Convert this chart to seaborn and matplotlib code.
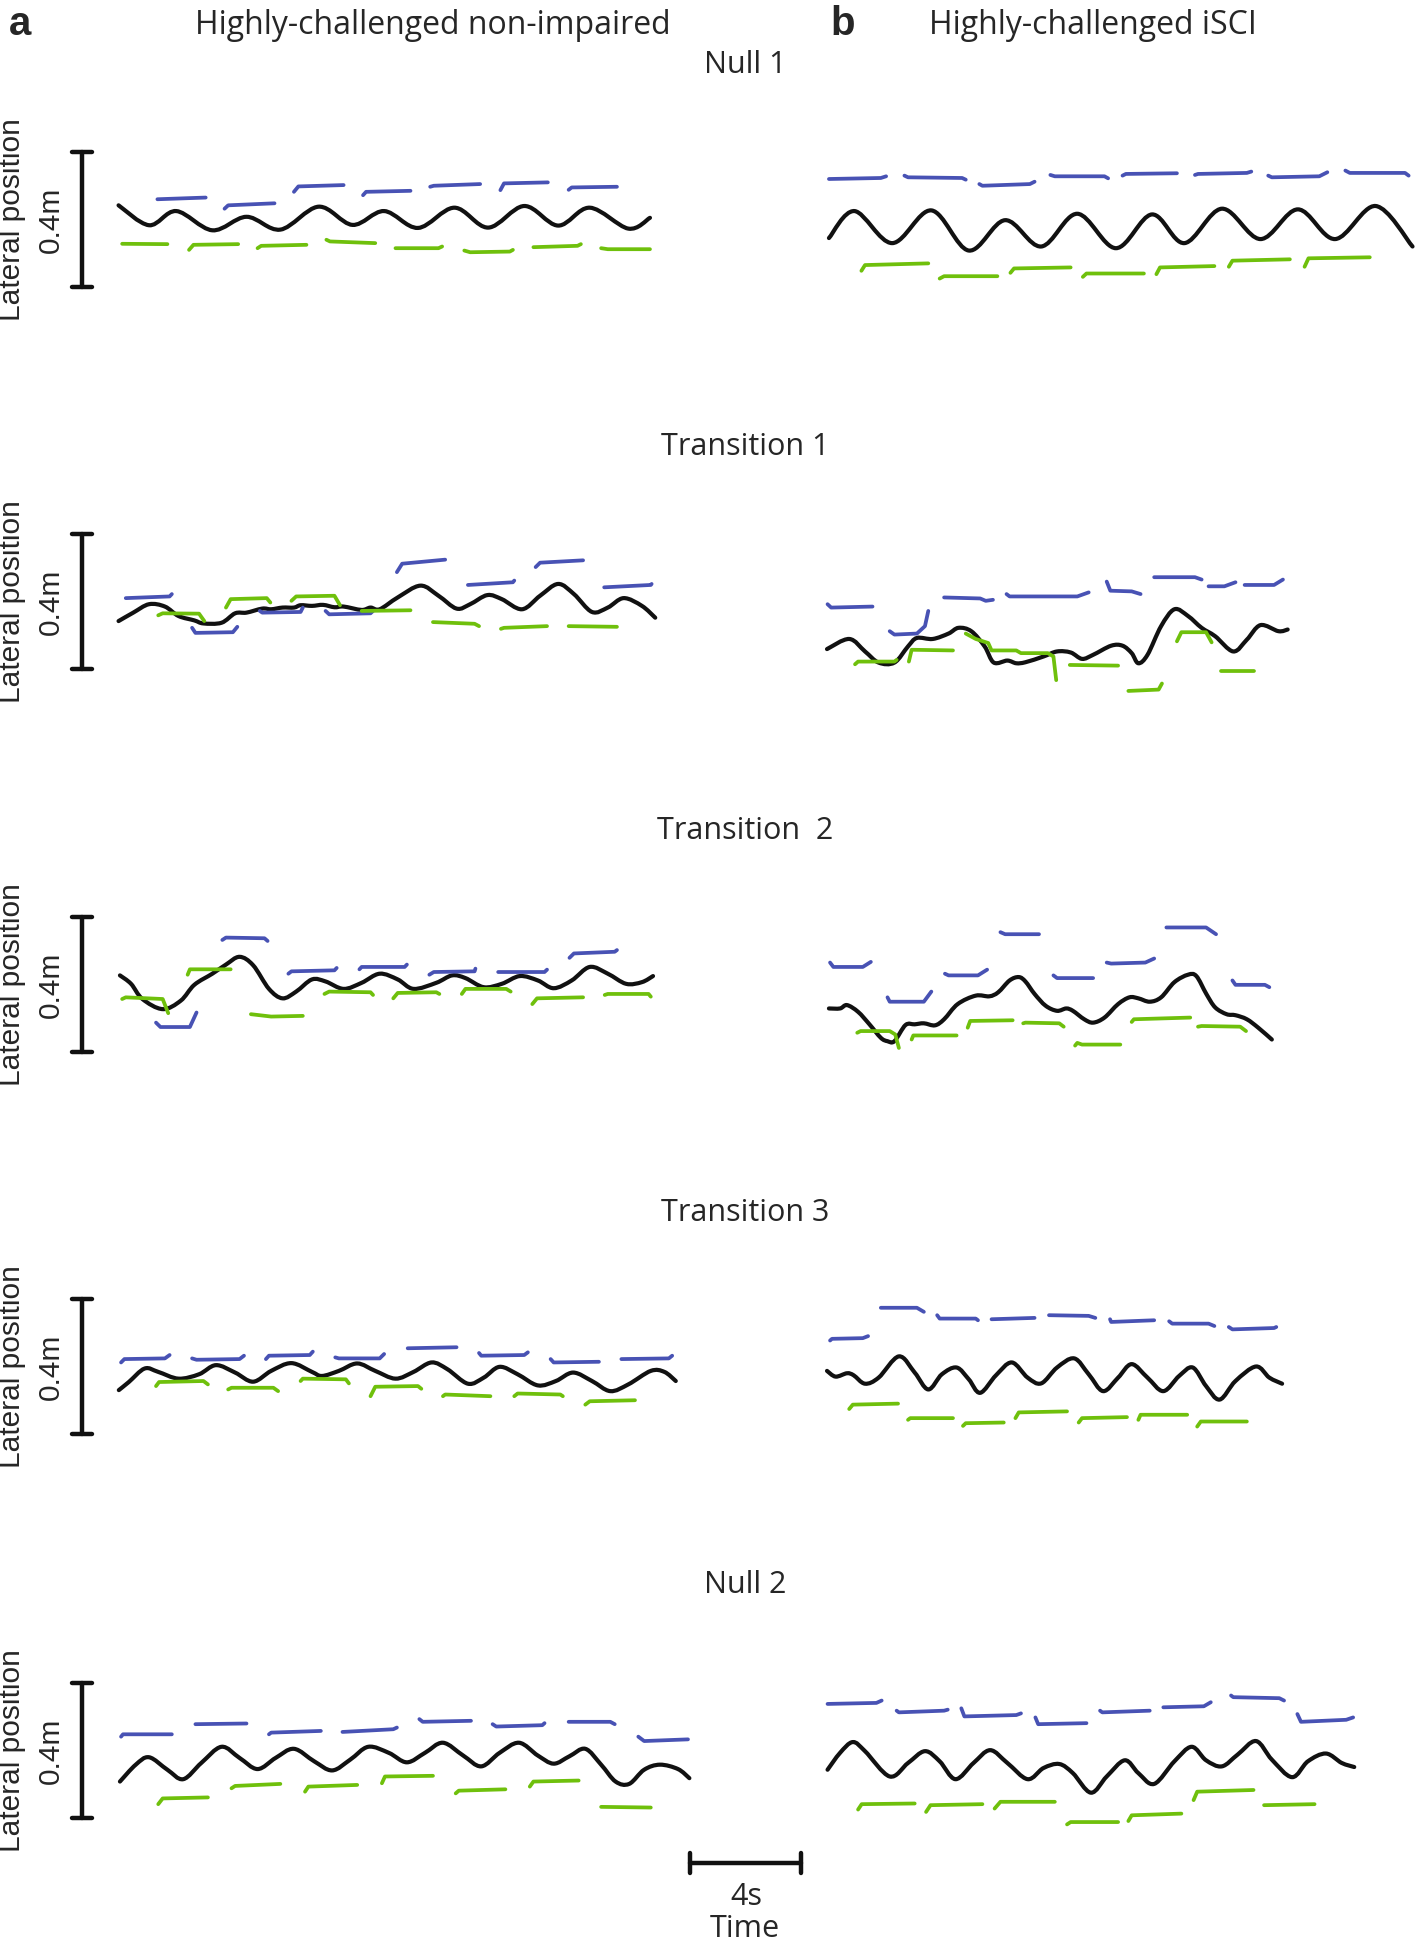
import numpy as np
import pandas as pd
import matplotlib
matplotlib.use("Agg")
import matplotlib.pyplot as plt
from matplotlib.path import Path
from matplotlib.patches import PathPatch
import seaborn as sns

# time in s (from trace start), lateral position in cm (from bottom of 0.4 m bar)
# ---------------- Null 1 ----------------
NULL1_NI_COM = [(0.02, 24.2), (1.12, 18.3), (2.1, 22.5), (3.4, 16.8), (4.63, 20.8), (5.85, 17.0),
                (7.23, 23.8), (8.45, 18.4), (9.59, 22.5), (10.81, 17.5), (12.12, 23.5), (13.34, 17.6),
                (14.64, 24.0), (15.86, 18.2), (17.0, 23.5), (18.39, 17.3), (19.17, 20.5)]
NULL1_NI_BLUE = [[(1.42, 26.0), (3.16, 26.5)],
                 [(3.84, 23.2), (3.97, 24.2), (5.64, 24.8)],
                 [(6.34, 28.2), (6.5, 29.8), (8.13, 30.2)],
                 [(8.83, 27.2), (8.94, 28.2), (10.54, 28.5)],
                 [(11.25, 29.7), (11.38, 30.0), (13.05, 30.5)],
                 [(13.78, 28.7), (13.91, 30.7), (15.49, 31.0)],
                 [(16.24, 28.8), (16.35, 29.5), (17.98, 29.7)]]
NULL1_NI_GREEN = [[(0.15, 12.8), (1.78, 12.7)],
                  [(2.56, 11.0), (2.72, 12.5), (4.33, 12.7)],
                  [(5.03, 11.5), (5.16, 12.2), (6.79, 12.5)],
                  [(7.51, 14.0), (7.64, 13.5), (9.27, 13.0)],
                  [(10.0, 11.5), (11.55, 11.5), (11.68, 12.0)],
                  [(12.48, 10.8), (12.69, 10.3), (14.12, 10.5), (14.23, 11.0)],
                  [(14.97, 11.8), (16.56, 12.2), (16.68, 12.7)],
                  [(17.41, 11.5), (17.65, 11.2), (19.17, 11.2)]]

NULL1_SCI_COM = [(0.07, 14.5), (0.99, 22.5), (2.35, 13.0), (3.76, 22.7), (5.11, 10.8), (6.42, 19.8),
                 (7.72, 12.0), (9.02, 21.7), (10.41, 11.5), (11.71, 21.5), (12.88, 13.0), (14.23, 23.2),
                 (15.62, 14.2), (16.97, 23.0), (18.31, 14.2), (19.77, 24.0), (21.1, 12.0)]
NULL1_SCI_BLUE = [[(0.07, 32.0), (1.94, 32.3), (2.13, 32.8)],
                  [(2.79, 33.0), (2.92, 32.5), (4.87, 32.3), (5.0, 31.8)],
                  [(5.49, 30.5), (5.6, 30.0), (7.31, 30.5), (7.48, 31.2)],
                  [(8.05, 33.2), (8.21, 32.8), (10.0, 32.8), (10.13, 32.2)],
                  [(10.65, 33.0), (10.77, 33.5), (12.61, 33.7)],
                  [(13.26, 33.2), (13.37, 33.5), (15.13, 33.8), (15.29, 34.2)],
                  [(15.9, 33.0), (16.03, 32.5), (17.74, 32.8), (18.03, 34.0)],
                  [(18.68, 34.5), (18.84, 33.8), (20.83, 33.8), (20.96, 33.0)]]
NULL1_SCI_GREEN = [[(1.24, 4.8), (1.37, 6.5), (3.65, 7.0)],
                   [(4.06, 2.5), (4.22, 3.2), (6.14, 3.2)],
                   [(6.61, 4.2), (6.74, 5.5), (8.78, 5.8)],
                   [(9.22, 3.0), (9.35, 4.0), (11.42, 4.0)],
                   [(11.87, 3.8), (12.0, 5.8), (13.96, 6.2)],
                   [(14.48, 6.0), (14.61, 7.8), (16.68, 8.2)],
                   [(17.21, 6.0), (17.35, 8.5), (19.56, 8.8)]]

# ---------------- Transition 1 ----------------
TRANS1_NI_COM = [(0.02, 14.2), (0.55, 16.7), (1.12, 19.2), (1.69, 18.5), (2.18, 15.7), (2.75, 14.4),
                 (3.08, 13.5), (3.73, 13.7), (4.22, 16.5), (4.63, 16.7), (5.2, 17.9), (5.52, 17.7),
                 (5.93, 18.2), (6.34, 18.2), (6.58, 18.9), (6.99, 18.7), (7.39, 19.0), (7.8, 18.3),
                 (8.13, 18.5), (8.78, 17.5), (9.1, 18.2), (9.43, 17.7), (10.08, 21.2), (10.9, 24.7),
                 (11.55, 21.7), (12.2, 17.9), (12.69, 19.2), (13.31, 21.9), (13.83, 20.7), (14.56, 17.7),
                 (15.21, 21.7), (15.86, 25.2), (16.43, 22.2), (17.08, 16.9), (17.65, 18.2), (18.22, 21.0),
                 (18.88, 18.7), (19.36, 15.2)]
TRANS1_NI_BLUE = [[(0.28, 21.0), (1.86, 21.5), (1.94, 22.2)],
                  [(2.67, 12.2), (2.79, 10.7), (4.14, 10.9), (4.3, 12.5)],
                  [(5.11, 17.2), (5.2, 16.7), (6.58, 16.9), (6.66, 18.2)],
                  [(7.48, 17.2), (7.61, 16.2), (9.1, 16.5), (9.19, 17.2)],
                  [(10.05, 28.7), (10.24, 31.2), (11.79, 32.4)],
                  [(12.61, 24.9), (14.23, 25.7), (14.28, 26.2)],
                  [(15.05, 30.2), (15.21, 31.5), (16.76, 32.2)],
                  [(17.52, 24.2), (19.2, 24.9), (19.23, 25.2)]]
TRANS1_NI_GREEN = [[(1.45, 15.9), (1.61, 16.5), (2.92, 16.4), (3.11, 14.2)],
                   [(3.89, 18.2), (4.06, 20.7), (5.36, 21.0), (5.49, 19.7)],
                   [(6.25, 20.2), (6.42, 21.5), (7.8, 21.7), (8.0, 18.9)],
                   [(8.78, 17.2), (10.54, 17.4)],
                   [(11.35, 13.9), (12.85, 13.4), (13.01, 12.7)],
                   [(13.8, 11.9), (13.91, 12.2), (15.46, 12.7)],
                   [(16.24, 12.7), (17.98, 12.5)]]

TRANS1_SCI_COM = [(0.0, 5.9), (0.8, 8.9), (1.37, 5.2), (1.86, 1.9), (2.43, 1.9), (2.92, 6.7), (3.24, 9.2),
                  (3.81, 8.9), (4.38, 10.5), (4.74, 12.2), (5.2, 11.2), (5.68, 6.7), (6.01, 1.9), (6.5, 2.5),
                  (6.82, 1.7), (7.15, 2.0), (7.8, 3.7), (8.29, 5.2), (8.78, 4.9), (9.19, 3.0), (9.59, 4.2),
                  (10.24, 6.9), (10.65, 6.9), (10.98, 4.7), (11.22, 1.7), (11.55, 4.2), (12.04, 12.7),
                  (12.52, 17.7), (13.01, 15.7), (13.5, 12.2), (13.99, 9.7), (14.64, 5.2), (15.13, 8.7),
                  (15.62, 13.0), (16.27, 11.2), (16.6, 11.7)]
TRANS1_SCI_BLUE = [[(0.02, 19.2), (0.15, 18.2), (1.64, 18.5)],
                   [(2.26, 11.2), (2.43, 10.2), (3.24, 10.5), (3.53, 12.7), (3.65, 17.2)],
                   [(4.22, 21.2), (5.52, 20.9), (5.72, 20.2), (5.98, 20.5)],
                   [(6.47, 22.2), (6.58, 21.5), (9.02, 21.5), (9.43, 22.7)],
                   [(10.08, 25.9), (10.21, 23.2), (10.98, 23.0), (11.3, 22.2)],
                   [(11.79, 27.2), (13.26, 27.2), (13.5, 26.5)],
                   [(13.75, 24.5), (14.32, 24.5), (14.72, 25.7)],
                   [(15.05, 24.9), (16.11, 24.9), (16.43, 26.5)]]
TRANS1_SCI_GREEN = [[(1.01, 1.4), (1.12, 2.2), (2.43, 2.2), (2.51, 2.7)],
                    [(2.95, 2.2), (3.05, 5.7), (4.54, 5.5)],
                    [(5.0, 10.5), (5.36, 8.9), (5.81, 7.7), (5.93, 5.5), (6.82, 5.5), (6.99, 4.7),
                     (7.96, 4.7), (8.16, 3.7), (8.26, -3.3)],
                    [(8.75, 1.2), (10.49, 1.0)],
                    [(10.86, -6.5), (11.95, -6.1), (12.07, -4.3)],
                    [(12.61, 8.2), (12.77, 10.9), (13.66, 10.9), (13.86, 7.9)],
                    [(14.19, -0.6), (15.37, -0.6)]]

# ---------------- Transition 2 ----------------
TRANS2_NI_COM = [(0.07, 22.7), (0.47, 20.2), (0.88, 15.7), (1.61, 12.7), (2.26, 15.2), (2.75, 19.9),
                 (3.4, 23.2), (3.89, 25.9), (4.38, 28.2), (4.87, 25.7), (5.44, 18.7), (5.93, 15.9),
                 (6.42, 17.9), (6.99, 21.5), (7.48, 20.9), (8.13, 18.7), (8.78, 20.5), (9.43, 23.2),
                 (10.08, 21.5), (10.65, 18.7), (11.47, 20.5), (12.04, 22.7), (12.52, 21.9), (13.18, 19.2),
                 (13.83, 20.2), (14.48, 22.5), (15.13, 21.2), (15.7, 18.9), (16.35, 21.2), (17.0, 25.2),
                 (17.65, 23.2), (18.31, 20.2), (18.88, 20.7), (19.28, 22.5)]
TRANS2_NI_BLUE = [[(1.37, 8.7), (1.53, 7.4), (2.59, 7.4), (2.83, 11.7)],
                  [(3.76, 33.2), (3.89, 33.9), (5.28, 33.7), (5.39, 32.9)],
                  [(6.14, 23.2), (6.25, 23.9), (7.8, 24.2), (7.88, 24.9)],
                  [(8.7, 24.5), (8.78, 25.2), (10.33, 25.2), (10.41, 25.9)],
                  [(11.22, 22.9), (11.38, 23.7), (12.85, 23.9), (12.88, 24.7)],
                  [(13.7, 23.7), (15.37, 23.7), (15.46, 24.4)],
                  [(16.27, 27.9), (16.43, 29.2), (17.9, 29.7), (17.98, 30.2)]]
TRANS2_NI_GREEN = [[(0.15, 15.7), (0.28, 16.2), (1.61, 15.7), (1.81, 11.5)],
                   [(2.51, 22.9), (2.59, 24.5), (4.06, 24.5)],
                   [(4.79, 11.2), (5.52, 10.5), (6.66, 10.7)],
                   [(7.44, 17.2), (7.61, 17.9), (9.1, 17.7), (9.19, 16.9)],
                   [(9.92, 15.9), (10.08, 17.5), (11.47, 17.7), (11.58, 17.2)],
                   [(12.39, 17.2), (12.52, 18.7), (13.99, 18.7), (14.15, 17.9)],
                   [(14.93, 14.2), (15.1, 15.9), (16.76, 16.2)],
                   [(17.54, 16.9), (17.65, 17.2), (19.12, 17.2), (19.2, 16.4)]]

TRANS2_SCI_COM = [(0.07, 12.9), (0.47, 12.9), (0.72, 13.9), (1.12, 11.9), (1.53, 8.2), (1.94, 4.2),
                  (2.18, 3.2), (2.43, 3.2), (2.83, 8.0), (3.16, 8.2), (3.49, 8.5), (3.89, 7.9), (4.22, 9.7),
                  (4.71, 14.2), (5.36, 16.7), (5.85, 16.5), (6.17, 17.7), (6.58, 21.2), (6.91, 22.2),
                  (7.15, 20.9), (7.48, 17.2), (7.88, 13.7), (8.29, 12.2), (8.62, 12.9), (8.86, 12.2),
                  (9.27, 9.7), (9.59, 8.7), (10.0, 10.2), (10.49, 14.2), (10.9, 16.2), (11.22, 15.9),
                  (11.63, 14.9), (12.04, 16.2), (12.52, 20.7), (13.01, 22.9), (13.31, 22.5), (13.67, 17.2),
                  (13.99, 13.2), (14.4, 11.2), (14.72, 10.9), (15.13, 9.7), (15.54, 7.2), (16.03, 3.7)]
TRANS2_SCI_BLUE = [[(0.11, 26.5), (0.23, 25.2), (1.29, 25.2), (1.58, 26.7)],
                   [(2.18, 16.2), (2.26, 14.9), (3.49, 14.9), (3.76, 17.9)],
                   [(4.25, 23.2), (4.38, 22.7), (5.44, 22.7), (5.77, 24.4)],
                   [(6.25, 35.5), (6.42, 34.9), (7.64, 34.9)],
                   [(8.16, 22.7), (8.29, 21.9), (9.59, 21.9)],
                   [(10.08, 26.5), (10.24, 26.2), (11.47, 26.5), (11.79, 27.7)],
                   [(12.23, 36.9), (13.66, 36.9), (14.02, 34.9)],
                   [(14.61, 21.2), (14.72, 19.9), (15.78, 19.9), (15.94, 19.2)]]
TRANS2_SCI_GREEN = [[(1.09, 5.7), (1.21, 6.2), (2.26, 6.2), (2.46, 5.2), (2.59, 1.2)],
                    [(3.05, 3.7), (3.11, 4.9), (4.67, 4.9)],
                    [(5.07, 7.2), (5.16, 9.2), (6.69, 9.4)],
                    [(7.07, 8.5), (7.15, 8.7), (8.37, 8.5), (8.53, 7.5)],
                    [(8.94, 1.9), (9.02, 2.7), (9.19, 2.2), (10.57, 2.2)],
                    [(10.98, 8.9), (11.06, 9.7), (13.09, 10.2)],
                    [(13.37, 7.5), (13.5, 7.7), (14.89, 7.5), (15.1, 6.2)]]

# ---------------- Transition 3 ----------------
TRANS3_NI_COM = [(0.03, 13.0), (0.39, 15.4), (0.96, 19.4), (1.45, 18.4), (2.18, 16.4), (2.92, 17.7),
                 (3.53, 20.4), (4.22, 18.2), (4.87, 15.5), (5.52, 18.7), (6.25, 21.0), (6.99, 18.4),
                 (7.35, 17.2), (7.96, 18.7), (8.62, 20.9), (9.27, 18.7), (10.0, 16.4), (10.65, 18.4),
                 (11.3, 21.2), (11.87, 19.2), (12.61, 14.9), (13.18, 16.7), (13.75, 19.9), (14.4, 17.7),
                 (15.13, 14.4), (15.78, 15.7), (16.4, 18.2), (17.08, 15.7), (17.74, 12.7), (18.39, 14.7),
                 (19.2, 18.7), (19.69, 18.4), (20.1, 15.7)]
TRANS3_NI_BLUE = [[(0.11, 21.2), (0.23, 22.2), (1.69, 22.4), (1.86, 23.4)],
                  [(2.67, 22.4), (2.83, 22.0), (4.38, 22.2), (4.54, 23.2)],
                  [(5.33, 22.2), (5.44, 23.2), (6.91, 23.4), (7.02, 24.4)],
                  [(7.83, 22.7), (7.96, 22.4), (9.43, 22.4), (9.59, 23.7)],
                  [(10.44, 25.4), (12.2, 25.7)],
                  [(13.01, 24.0), (13.09, 23.2), (14.64, 23.4), (14.77, 24.2)],
                  [(15.59, 22.2), (15.7, 21.2), (17.33, 21.4)],
                  [(18.14, 22.2), (19.85, 22.4), (19.97, 23.2)]]
TRANS3_NI_GREEN = [[(1.37, 14.2), (1.48, 15.4), (3.08, 15.7), (3.24, 14.7)],
                   [(3.97, 13.2), (4.09, 13.7), (5.6, 13.7), (5.77, 12.7)],
                   [(6.58, 15.7), (6.66, 16.4), (8.21, 16.2), (8.32, 15.0)],
                   [(9.1, 11.2), (9.27, 14.0), (10.81, 14.2), (10.93, 13.4)],
                   [(11.71, 11.2), (11.79, 11.7), (13.42, 11.2)],
                   [(14.28, 11.2), (14.4, 12.0), (15.94, 11.7), (16.03, 11.2)],
                   [(16.84, 8.7), (17.0, 9.7), (18.63, 10.0)]]

TRANS3_SCI_COM = [(0.0, 18.7), (0.31, 17.0), (0.72, 18.0), (0.96, 17.4), (1.37, 14.9), (1.86, 16.7),
                  (2.59, 23.0), (3.16, 18.2), (3.65, 13.2), (4.14, 17.7), (4.67, 19.7), (5.11, 16.2),
                  (5.52, 12.2), (6.09, 17.4), (6.66, 21.2), (7.23, 16.7), (7.72, 15.0), (8.29, 19.7),
                  (8.91, 22.4), (9.43, 17.7), (9.95, 12.7), (10.49, 16.7), (10.98, 20.7), (11.55, 16.7),
                  (12.12, 12.7), (12.69, 17.2), (13.18, 19.7), (13.66, 14.2), (14.15, 10.2), (14.72, 15.7),
                  (15.46, 20.0), (15.94, 16.7), (16.4, 14.9)]
TRANS3_SCI_BLUE = [[(0.11, 27.7), (0.18, 28.2), (1.29, 28.4), (1.48, 29.0)],
                   [(1.94, 37.4), (3.24, 37.4), (3.49, 36.2)],
                   [(3.97, 35.2), (4.06, 34.2), (5.36, 34.2), (5.44, 33.7)],
                   [(5.93, 34.0), (7.48, 34.4)],
                   [(8.0, 35.2), (9.43, 35.0), (9.67, 34.4)],
                   [(10.2, 34.0), (10.24, 33.2), (11.79, 33.7)],
                   [(12.33, 33.4), (12.44, 32.7), (13.75, 32.7), (13.96, 32.0)],
                   [(14.48, 31.7), (14.61, 31.0), (16.11, 31.4), (16.19, 31.7)]]
TRANS3_SCI_GREEN = [[(0.8, 7.4), (0.93, 8.7), (2.56, 9.0)],
                    [(2.92, 4.2), (3.0, 4.7), (4.54, 4.7)],
                    [(4.9, 2.4), (5.0, 3.2), (6.37, 3.4)],
                    [(6.79, 4.7), (6.91, 6.4), (8.65, 6.7)],
                    [(9.07, 3.4), (9.19, 4.7), (10.81, 5.0)],
                    [(11.22, 4.2), (11.3, 5.7), (12.98, 5.7)],
                    [(13.34, 2.2), (13.47, 3.7), (15.13, 3.7)]]

# ---------------- Null 2 ----------------
NULL2_NI_COM = [(0.07, 10.8), (0.64, 15.8), (1.12, 18.0), (1.78, 14.3), (2.35, 11.5), (3.0, 16.3),
                (3.73, 21.1), (4.38, 17.8), (5.03, 14.5), (5.68, 17.8), (6.34, 20.5), (7.07, 16.8),
                (7.72, 14.1), (8.37, 17.3), (9.02, 21.1), (9.76, 19.3), (10.41, 16.5), (11.06, 19.3),
                (11.71, 22.3), (12.44, 18.5), (13.09, 15.3), (13.75, 19.3), (14.45, 22.3), (15.13, 18.5),
                (15.7, 16.1), (16.27, 18.3), (16.84, 20.5), (17.41, 15.8), (17.93, 10.8), (18.42, 10.1),
                (18.96, 14.3), (19.53, 15.8), (20.18, 14.5), (20.59, 11.8)]
NULL2_NI_BLUE = [[(0.11, 24.1), (0.18, 24.8), (1.94, 24.8)],
                 [(2.79, 27.8), (4.63, 28.0)],
                 [(5.44, 24.8), (5.52, 25.3), (7.31, 25.8)],
                 [(8.09, 25.5), (9.92, 26.3), (10.05, 26.8)],
                 [(10.86, 29.3), (10.98, 28.5), (12.72, 28.8)],
                 [(13.5, 27.8), (13.63, 27.1), (15.29, 27.5), (15.37, 28.1)],
                 [(16.24, 28.5), (17.74, 28.5), (17.9, 27.8)],
                 [(18.75, 24.1), (18.96, 22.8), (20.54, 23.3)]]
NULL2_NI_GREEN = [[(1.45, 4.1), (1.61, 5.8), (3.24, 6.1)],
                  [(4.09, 8.8), (4.22, 9.5), (5.85, 10.1)],
                  [(6.74, 7.8), (6.86, 9.3), (8.62, 9.8)],
                  [(9.51, 10.3), (9.62, 12.3), (11.35, 12.5)],
                  [(12.17, 7.3), (12.28, 8.1), (13.96, 8.5)],
                  [(14.84, 9.3), (14.97, 10.8), (16.6, 11.1)],
                  [(17.41, 3.3), (19.2, 3.1)]]

NULL2_SCI_COM = [(0.02, 14.3), (0.47, 19.3), (0.93, 22.5), (1.37, 19.8), (2.26, 12.3), (2.92, 16.3),
                 (3.53, 19.8), (4.06, 16.8), (4.63, 11.5), (5.28, 16.3), (5.88, 20.1), (6.5, 16.3),
                 (7.23, 11.5), (7.8, 14.8), (8.37, 16.0), (8.86, 13.3), (9.51, 7.5), (10.08, 12.3),
                 (10.73, 17.1), (11.22, 13.3), (11.79, 10.1), (12.52, 16.8), (13.14, 21.1), (13.66, 17.1),
                 (14.23, 15.3), (14.8, 18.8), (15.46, 22.8), (16.03, 17.3), (16.76, 12.1), (17.33, 16.8),
                 (17.98, 19.1), (18.55, 16.3), (19.0, 15.1)]
NULL2_SCI_BLUE = [[(0.02, 33.8), (1.78, 34.1), (1.97, 34.8)],
                  [(2.51, 31.8), (2.59, 31.3), (4.22, 31.8), (4.35, 32.1)],
                  [(4.84, 32.5), (4.95, 30.1), (6.82, 30.5), (6.99, 31.0)],
                  [(7.51, 29.8), (7.61, 27.8), (9.35, 28.1)],
                  [(9.84, 31.8), (9.92, 31.3), (11.63, 31.8)],
                  [(12.12, 32.8), (13.58, 33.1), (13.83, 34.3)],
                  [(14.56, 36.3), (14.64, 35.8), (16.3, 35.5), (16.47, 34.8)],
                  [(16.95, 30.8), (17.08, 28.5), (18.71, 29.1), (18.96, 29.8)]]
NULL2_SCI_GREEN = [[(1.12, 2.5), (1.25, 4.1), (3.16, 4.3)],
                   [(3.57, 1.8), (3.73, 3.8), (5.6, 4.1)],
                   [(6.04, 2.8), (6.25, 4.8), (8.21, 4.8)],
                   [(8.65, -1.9), (8.78, -1.2), (10.49, -1.2)],
                   [(10.86, -0.9), (10.98, 0.8), (12.77, 1.3)],
                   [(13.21, 5.3), (13.34, 7.8), (15.37, 8.3)],
                   [(15.75, 3.8), (17.57, 4.1)]]

ROW_TITLES = ["Null 1", "Transition 1", "Transition  2", "Transition 3", "Null 2"]
COL_TITLES = ["Highly-challenged non-impaired", "Highly-challenged iSCI"]
PANEL_LETTERS = ["a", "b"]
SCALE_LATERAL = 40   # cm  -> "0.4m"
SCALE_TIME = 4       # s

PANELS = [
    [(NULL1_NI_COM, NULL1_NI_BLUE, NULL1_NI_GREEN), (NULL1_SCI_COM, NULL1_SCI_BLUE, NULL1_SCI_GREEN)],
    [(TRANS1_NI_COM, TRANS1_NI_BLUE, TRANS1_NI_GREEN), (TRANS1_SCI_COM, TRANS1_SCI_BLUE, TRANS1_SCI_GREEN)],
    [(TRANS2_NI_COM, TRANS2_NI_BLUE, TRANS2_NI_GREEN), (TRANS2_SCI_COM, TRANS2_SCI_BLUE, TRANS2_SCI_GREEN)],
    [(TRANS3_NI_COM, TRANS3_NI_BLUE, TRANS3_NI_GREEN), (TRANS3_SCI_COM, TRANS3_SCI_BLUE, TRANS3_SCI_GREEN)],
    [(NULL2_NI_COM, NULL2_NI_BLUE, NULL2_NI_GREEN), (NULL2_SCI_COM, NULL2_SCI_BLUE, NULL2_SCI_GREEN)],
]

BLUE = "#4852b4"
GREEN = "#6fc00c"

# layout (pixels)
FIG_W, FIG_H = 1418, 1945
PX_PER_S = 27.75
PX_PER_CM = 3.375
ROW_BASE = [287, 669, 1052, 1434, 1818]
ROW_TITLE_Y = [73, 455, 839, 1221, 1593]
COL_LEFT = [0, 709]
COL_ORIGIN = [118, 827]

sns.set_theme(style="white")
TITLE_FONT = ["Open Sans", "DejaVu Sans"]
LABEL_FONT = ["Liberation Sans", "DejaVu Sans"]


def fx(x):
    return x / FIG_W


def fy(y):
    return 1 - y / FIG_H


def smooth_path(pts):
    # Catmull-Rom through the read points, drawn as cubic Bezier pieces
    p = np.asarray(pts, float)
    ext = np.vstack([p[0], p, p[-1]])
    verts, codes = [p[0]], [Path.MOVETO]
    for i in range(1, len(ext) - 2):
        p0, p1, p2, p3 = ext[i - 1], ext[i], ext[i + 1], ext[i + 2]
        verts += [p1 + (p2 - p0) / 6, p2 - (p3 - p1) / 6, p2]
        codes += [Path.CURVE4] * 3
    return Path(verts, codes)


def seg_frame(segs):
    rows = []
    for k, seg in enumerate(segs):
        for t, y in seg:
            rows.append({"t": t, "y": y, "seg": k})
    return pd.DataFrame(rows)


fig = plt.figure(figsize=(FIG_W / 100, FIG_H / 100), dpi=100)

for r, base in enumerate(ROW_BASE):
    for c in range(2):
        com, blue, green = PANELS[r][c]
        ax = fig.add_axes([fx(COL_LEFT[c]), fy(base + 60), 709 / FIG_W, 250 / FIG_H])
        sns.lineplot(data=seg_frame(blue), x="t", y="y", units="seg", estimator=None, sort=False,
                     color=BLUE, lw=2.7, solid_capstyle="round", solid_joinstyle="round",
                     ax=ax, legend=False)
        sns.lineplot(data=seg_frame(green), x="t", y="y", units="seg", estimator=None, sort=False,
                     color=GREEN, lw=2.7, solid_capstyle="round", solid_joinstyle="round",
                     ax=ax, legend=False)
        ax.add_patch(PathPatch(smooth_path(com), fc="none", ec="#111111", lw=3.0,
                               capstyle="round", joinstyle="round"))
        ax.set_xlim(-(COL_ORIGIN[c] - COL_LEFT[c]) / PX_PER_S,
                    (COL_LEFT[c] + 709 - COL_ORIGIN[c]) / PX_PER_S)
        ax.set_ylim(-60 / PX_PER_CM, 190 / PX_PER_CM)
        ax.set_axis_off()

        if c == 0:
            # lateral scale bar
            xb = (82 - COL_ORIGIN[0]) / PX_PER_S
            cap = 10 / PX_PER_S
            ax.plot([xb, xb], [0, SCALE_LATERAL], color="#111111", lw=3.2, clip_on=False)
            for yy in (0, SCALE_LATERAL):
                ax.plot([xb - cap, xb + cap], [yy, yy], color="#111111", lw=3.2, clip_on=False)
            mid = base - SCALE_LATERAL * PX_PER_CM / 2
            fig.text(fx(12), fy(mid), "Lateral position", rotation=90, ha="center", va="center",
                     fontsize=21.5, family=LABEL_FONT)
            fig.text(fx(51), fy(mid), "0.4m", rotation=90, ha="center", va="center",
                     fontsize=21.5, family=LABEL_FONT)

            if r == len(ROW_BASE) - 1:
                # time scale bar
                t0 = (690 - COL_ORIGIN[0]) / PX_PER_S
                yb = -(1863 - base) / PX_PER_CM
                capy = 10 / PX_PER_CM
                ax.plot([t0, t0 + SCALE_TIME], [yb, yb], color="#111111", lw=3.2, clip_on=False)
                for tt in (t0, t0 + SCALE_TIME):
                    ax.plot([tt, tt], [yb - capy, yb + capy], color="#111111", lw=3.2, clip_on=False)

    fig.text(fx(745), fy(ROW_TITLE_Y[r]), ROW_TITLES[r], ha="center", va="baseline",
             fontsize=22, family=TITLE_FONT)

fig.text(fx(433), fy(34), COL_TITLES[0], ha="center", va="baseline", fontsize=23, family=TITLE_FONT)
fig.text(fx(1093), fy(34), COL_TITLES[1], ha="center", va="baseline", fontsize=23, family=TITLE_FONT)
fig.text(fx(9), fy(35), PANEL_LETTERS[0], ha="left", va="baseline", fontsize=29,
         fontweight="bold", family=LABEL_FONT)
fig.text(fx(830), fy(35), PANEL_LETTERS[1], ha="left", va="baseline", fontsize=29,
         fontweight="bold", family=LABEL_FONT)
fig.text(fx(746), fy(1905), "4s", ha="center", va="baseline", fontsize=22, family=TITLE_FONT)
fig.text(fx(745), fy(1937), "Time", ha="center", va="baseline", fontsize=22, family=TITLE_FONT)

fig.savefig("out.png", dpi=100)
